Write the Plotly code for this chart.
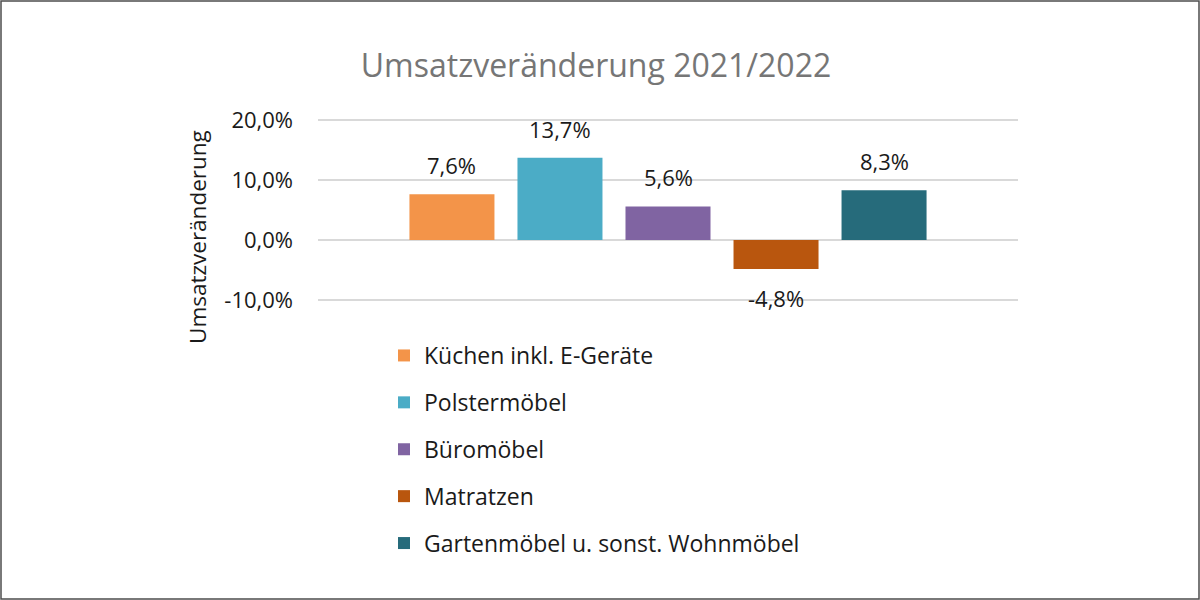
import plotly.graph_objects as go

categories = ["Küchen inkl. E-Geräte", "Polstermöbel", "Büromöbel", "Matratzen",
              "Gartenmöbel u. sonst. Wohnmöbel"]
values = [0.076, 0.137, 0.056, -0.048, 0.083]
colors = ["#F39449", "#4BACC6", "#8064A2", "#B9560E", "#266B7B"]
y_ticks = [-0.1, 0.0, 0.1, 0.2]


def pct(v):
    # German style: comma decimal, plain hyphen for negatives
    return f"{v * 100:.1f}%".replace(".", ",")


FONT = "Open Sans"

fig = go.Figure()
for i, (name, v, c) in enumerate(zip(categories, values, colors)):
    fig.add_trace(go.Bar(
        x=[i], y=[v], name=name, marker_color=c, marker_line_width=0,
        legendgroup=name,
        hovertemplate=pct(v) + "<extra>" + name + "</extra>",
    ))
    # data label above positive bars, below negative ones
    fig.add_annotation(
        x=i, y=v, text=pct(v), showarrow=False,
        yanchor="bottom" if v >= 0 else "top",
        yshift=12 if v >= 0 else -12,
        font=dict(family=FONT, size=22, color="#1a1a1a"),
    )

# margins: plot area ~318..1018 x 118..302 px (range padded so edge gridlines show)
L, R, T, B = 318, 182, 118, 298
PW, PH = 1200 - L - R, 600 - T - B

fig.add_annotation(
    text="Umsatzveränderung", textangle=-90, showarrow=False,
    xref="paper", yref="paper", x=(197 - L) / PW, y=1 - (237 - T) / PH,
    xanchor="center", yanchor="middle",
    font=dict(family=FONT, size=22.5, color="#1a1a1a"),
)

# thin frame around the whole picture
fig.add_shape(
    type="rect", xref="paper", yref="paper",
    x0=-(L - 1) / PW, x1=1 + (R - 1) / PW, y0=-(B - 1) / PH, y1=1 + (T - 1) / PH,
    line=dict(color="#4d4d4d", width=1.5), layer="above",
)

fig.update_layout(
    width=1200, height=600,
    margin=dict(l=L, r=R, t=T, b=B),
    paper_bgcolor="white", plot_bgcolor="white",
    separators=",.",
    barmode="overlay", bargap=0.213,
    font=dict(family=FONT, size=22, color="#1a1a1a"),
    title=dict(text="Umsatzveränderung 2021/2022", x=596 / 1200, xanchor="center",
               y=1 - 66 / 600, yanchor="middle",
               font=dict(family=FONT, size=32, color="#767676")),
    xaxis=dict(range=[-1.24, 5.24], showticklabels=False, showgrid=False,
               zeroline=False, showline=False, fixedrange=True),
    yaxis=dict(range=[-0.103, 0.203], tickvals=y_ticks,
               ticktext=[pct(t) for t in y_ticks],
               showgrid=True, gridcolor="#d9d9d9", gridwidth=1.5,
               zeroline=True, zerolinecolor="#d9d9d9", zerolinewidth=1.5,
               showline=False, ticks="", ticklabelstandoff=24, fixedrange=True,
               tickfont=dict(family=FONT, size=22, color="#1a1a1a")),
    showlegend=True,
    legend=dict(orientation="v", x=(384 - L) / PW, xanchor="left",
                y=1 - (334 - T) / PH, yanchor="top",
                tracegroupgap=14, itemclick=False, itemdoubleclick=False,
                font=dict(family=FONT, size=23, color="#1a1a1a"),
                bgcolor="rgba(0,0,0,0)"),
)

fig.write_html("out.html", config={"displayModeBar": False},
               post_script="document.body.style.margin='0';")
